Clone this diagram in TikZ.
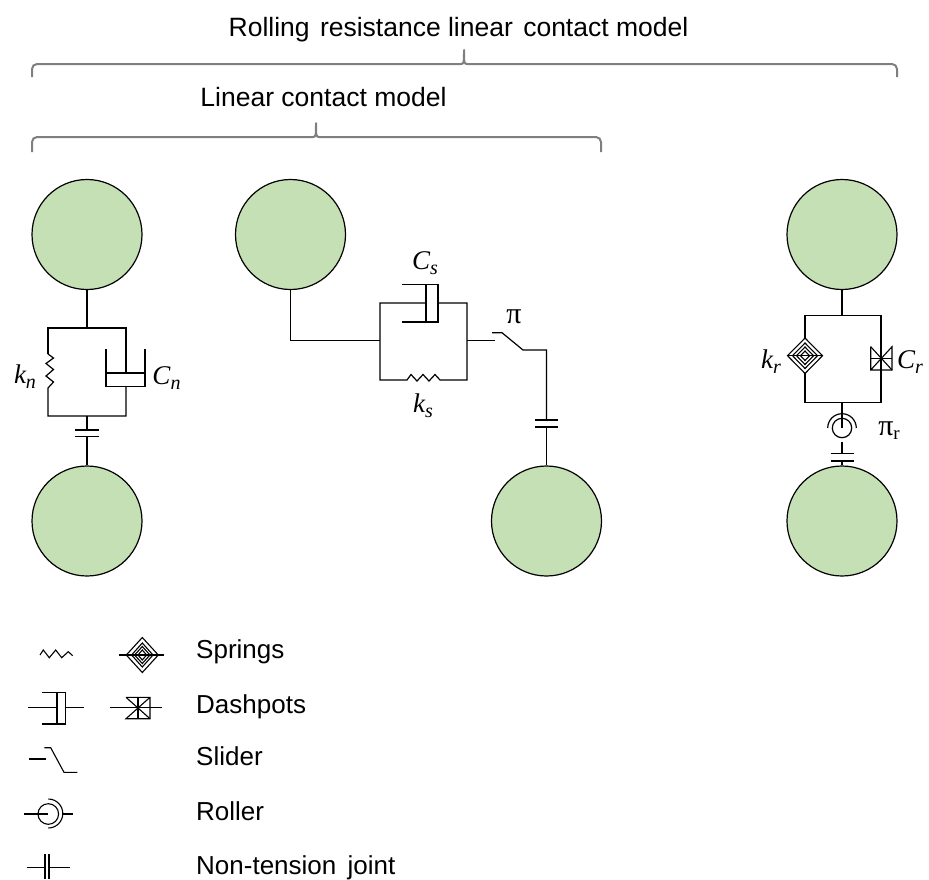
\documentclass[tikz,border=0pt]{standalone}
\usepackage{fontspec}
\setmainfont{Liberation Sans}
\newfontfamily\piserif{Liberation Serif}
\definecolor{ballfill}{HTML}{C5E0B4}
\definecolor{bracecol}{HTML}{7F7F7F}
\newcommand{\varlabel}[2]{{\piserif\itshape\fontsize{27}{30}\selectfont #1\raisebox{-5pt}{\fontsize{20}{22}\selectfont #2}}}
\tikzset{
  ball/.style={circle,draw=black,fill=ballfill,line width=1.2pt,minimum size=110pt,inner sep=0pt},
  wire/.style={draw=black,line width=1.2pt,line join=miter},
  thin wire/.style={draw=black,line width=1.1pt},
  bracket/.style={draw=bracecol,line width=2pt,rounded corners=5pt},
  title/.style={font=\fontsize{26.5}{30}\selectfont,inner sep=0pt,anchor=base},
  legend/.style={font=\fontsize{26}{30}\selectfont,inner sep=0pt,anchor=base west},
  sym/.style={inner sep=0pt}
}
\begin{document}
\begin{tikzpicture}[x=1pt,y=-1pt]
\useasboundingbox (0,0) rectangle (929,879);
% titles and brackets
\node[title] (t1) at (458.5,36) {Rolling\hspace{3pt} resistance linear\hspace{3pt} contact model};
\node[title] (t2) at (323.5,106) {Linear contact model};
\draw[bracket] (32,77) -- (32,64) -- (461,64);
\draw[bracket] (897,77) -- (897,64) -- (467,64);
\draw[draw=bracecol,line width=2pt,line join=round] (461,64) .. controls (464,64) and (464,62) .. (464,50) .. controls (464,62) and (464,64) .. (467,64);
\draw[bracket] (32,152) -- (32,137) -- (313,137);
\draw[bracket] (601,152) -- (601,137) -- (319,137);
\draw[draw=bracecol,line width=2pt,line join=round] (313,137) .. controls (316,137) and (316,135) .. (316,123) .. controls (316,135) and (316,137) .. (319,137);
% balls
\node[ball] (a1) at (87,234.5) {};
\node[ball] (a2) at (87,521) {};
\node[ball] (b1) at (290.5,234.5) {};
\node[ball] (b2) at (546.5,521) {};
\node[ball] (c1) at (842,234.5) {};
\node[ball] (c2) at (842,521) {};
% normal mechanism
\coordinate (ant) at (87,328);
\coordinate (anb) at (87,416);
\draw[wire] (a1.south) -- (ant);
\draw[wire] (48,354) -- (48,328) -- (126,328) -- (126,373);
\draw[wire] (48,354) -- (53.5,358) -- (46,363.5) -- (53.5,369.5) -- (46,376) -- (53.5,382) -- (48,388) -- (48,416) -- (126,416) -- (126,386.5);
\draw[wire] (106,349) -- (106,386.5) -- (145,386.5) -- (145,349);
\draw[wire] (106,373) -- (145,373);
\coordinate (anp1) at (87,430);
\coordinate (anp2) at (87,436.5);
\draw[wire] (anb) -- (anp1);
\draw[wire] (75,430) -- (98.5,430);
\draw[wire] (75,436.5) -- (98.5,436.5);
\draw[wire] (anp2) -- (a2.north);
\node[sym] (kn) at (25,377) {\varlabel{k}{n}};
\node[sym] (cn) at (166.5,378) {\varlabel{C}{n}};
% shear mechanism
\coordinate (bj) at (380,340.5);
\draw[wire] (b1.south) -- (290.5,340.5) -- (bj);
\draw[wire] (426,303) -- (380,303) -- (380,380) -- (407,380) -- (411,374.5) -- (417,381) -- (423,374.5) -- (429,381) -- (435,374.5) -- (440,380) -- (467,380) -- (467,303) -- (438,303);
\draw[wire] (402,284.3) -- (438,284.3) -- (438,322) -- (402,322);
\draw[wire] (426,284.3) -- (426,322);
\draw[wire] (467,340.5) -- (495,340.5);
\draw[wire] (492,332.7) -- (502,332.7) -- (523,350) -- (546.5,350) -- (546.5,420);
\draw[wire] (535,420) -- (558,420);
\draw[wire] (535,427) -- (558,427);
\draw[wire] (546.5,427) -- (b2.north);
\node[sym] (cs) at (425,263) {\varlabel{C}{s}};
\node[sym] (ks) at (423,406) {\varlabel{k}{s}};
\node[sym,font=\piserif\fontsize{30}{32}\selectfont] (pi1) at (514,317) {π};
% rolling mechanism
\draw[wire] (c1.south) -- (842,315.5);
\draw[wire] (805,338) -- (805,315.5) -- (881,315.5) -- (881,402.5) -- (805,402.5) -- (805,373);
\draw[thin wire] (805,338) -- (822.5,355.7) -- (805,373.5) -- (787.5,355.7) -- cycle;
\draw[thin wire] (805,343) -- (817.5,355.7) -- (805,368.5) -- (792.5,355.7) -- cycle;
\draw[thin wire] (805,347) -- (813.5,355.7) -- (805,364.5) -- (796.5,355.7) -- cycle;
\draw[thin wire] (805,351) -- (809.5,355.7) -- (805,360.5) -- (800.5,355.7) -- cycle;
\draw[thin wire] (787.5,355.7) -- (822.5,355.7);
\draw[thin wire] (870.7,346.7) -- (870.7,370) -- (892,370) -- (892,346.7) -- (870.7,370);
\draw[thin wire] (870.7,346.7) -- (892,370);
\draw[thin wire] (870.7,358.5) -- (892,358.5);
\draw[wire] (842,402.5) -- (842,428);
\draw[wire] (842,428) circle[radius=9.7];
\draw[wire] (827.7,428) arc[start angle=180,end angle=360,radius=14.3];
\draw[wire] (842,442.3) -- (842,453.7);
\draw[wire] (830.7,453.7) -- (854,453.7);
\draw[wire] (830.7,461) -- (854,461);
\draw[wire] (842,461) -- (c2.north);
\node[sym] (kr) at (771,362) {\varlabel{k}{r}};
\node[sym] (cr) at (910,362) {\varlabel{C}{r}};
\node[sym,font=\piserif\fontsize{30}{32}\selectfont] (pi2) at (889,431) {π\raisebox{-4pt}{\fontsize{19}{20}\selectfont r}};
% legend symbols
\draw[thin wire] (40,655) -- (43.3,650) -- (49.3,657.7) -- (55.7,650) -- (61.7,657.7) -- (68.3,651.7) -- (72.7,655.7);
\draw[thin wire] (119,655) -- (164,655);
\draw[thin wire] (142.3,637.5) -- (158.3,655) -- (142.3,672.5) -- (126.3,655) -- cycle;
\draw[thin wire] (142.3,643) -- (153,655) -- (142.3,667) -- (131.6,655) -- cycle;
\draw[thin wire] (142.3,646.5) -- (150,655) -- (142.3,663.5) -- (134.6,655) -- cycle;
\draw[thin wire] (142.3,650) -- (146.6,655) -- (142.3,660) -- (138,655) -- cycle;
\draw[thin wire] (28,707.7) -- (57,707.7);
\draw[thin wire] (41.7,692.7) -- (65.5,692.7) -- (65.5,724) -- (41.7,724);
\draw[thin wire] (57,692.7) -- (57,724);
\draw[thin wire] (65.5,707.7) -- (84,707.7);
\draw[thin wire] (110,707.7) -- (161.7,707.7);
\draw[thin wire] (126,697.3) -- (150,697.3) -- (150,718.7) -- (126,718.7) -- (150,697.3);
\draw[thin wire] (126,697.3) -- (150,718.7);
\draw[thin wire] (138,697.3) -- (138,718.7);
\draw[thin wire] (29.3,759) -- (46,759);
\draw[thin wire] (44.3,747.7) -- (50.7,747.7) -- (64,772.3) -- (77.3,772.3);
\draw[thin wire] (48.3,814) circle[radius=10.3];
\draw[thin wire] (24,814) -- (48.3,814);
\draw[thin wire] (48.3,799) arc[start angle=-90,end angle=90,radius=14.5];
\draw[thin wire] (62.8,814) -- (73.3,814);
\draw[thin wire] (45,854) -- (45,879);
\draw[thin wire] (49,854) -- (49,879);
\draw[thin wire] (26.7,867.7) -- (45,867.7);
\draw[thin wire] (49,867.7) -- (70,867.7);
% legend labels
\node[legend] (l1) at (196,658) {Springs};
\node[legend] (l2) at (196,713) {Dashpots};
\node[legend] (l3) at (196,765) {Slider};
\node[legend] (l4) at (196,820) {Roller};
\node[legend] (l5) at (196,874) {Non-tension\hspace{4pt} joint};
\end{tikzpicture}
\end{document}
